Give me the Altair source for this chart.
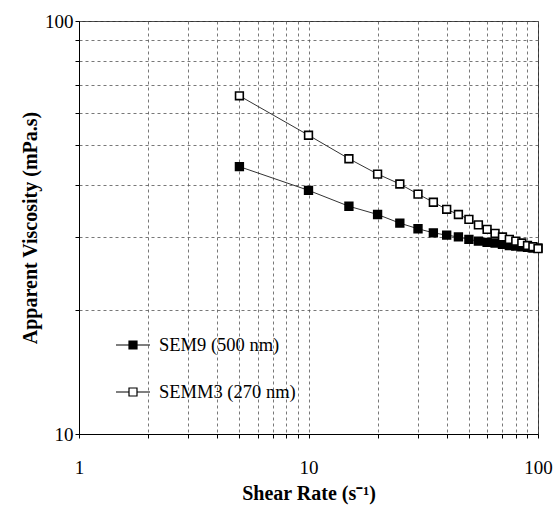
import altair as alt
import pandas as pd

# ---- data ----
shear_rate = [5, 10, 15, 20, 25, 30, 35, 40, 45, 50, 55, 60, 65, 70, 75, 80, 85, 90, 95, 100]
sem9 = [44.4, 38.9, 35.6, 34.0, 32.4, 31.4, 30.7, 30.3, 30.0, 29.6, 29.3, 29.1, 29.0, 28.8, 28.6, 28.5, 28.4, 28.3, 28.2, 28.2]
semm3 = [65.9, 52.9, 46.4, 42.6, 40.3, 38.1, 36.4, 35.0, 34.0, 33.1, 32.1, 31.3, 30.6, 30.0, 29.6, 29.3, 29.0, 28.6, 28.4, 28.1]
series_names = ["SEM9 (500 nm)", "SEMM3 (270 nm)"]
series_fill = ["black", "white"]
x_ticks = [1, 2, 3, 4, 5, 6, 7, 8, 9, 10, 20, 30, 40, 50, 60, 70, 80, 90, 100]
y_ticks = [10, 20, 30, 40, 50, 60, 70, 80, 90, 100]
x_labels = [1, 10, 100]
y_labels = [10, 100]

rows = []
for name, vals in zip(series_names, [sem9, semm3]):
    for x, v in zip(shear_rate, vals):
        rows.append({"rate": x, "visc": v, "series": name})
df = pd.DataFrame(rows)

FONT = "Liberation Serif"

x_expr = " || ".join(f"datum.value == {v}" for v in x_labels)
y_expr = " || ".join(f"datum.value == {v}" for v in y_labels)

xaxis = alt.Axis(values=x_ticks, labelExpr=f"({x_expr}) ? format(datum.value, 'd') : ''",
                 labelPadding=20, titlePadding=6, labelFlush=False)
yaxis = alt.Axis(values=y_ticks, labelExpr=f"({y_expr}) ? format(datum.value, 'd') : ''",
                 labelPadding=2, titlePadding=4)

base = alt.Chart(df).encode(
    x=alt.X("rate:Q", scale=alt.Scale(type="log", domain=[1, 100], nice=False),
            axis=xaxis, title="Shear Rate (s⁻¹)"),
    y=alt.Y("visc:Q", scale=alt.Scale(type="log", domain=[10, 100], nice=False),
            axis=yaxis, title="Apparent Viscosity (mPa.s)"),
)

line = base.mark_line(color="#333", strokeWidth=1).encode(detail="series:N")

legend_symbol = "M-1.7,0H-0.4M0.4,0H1.7M-0.4,-0.4H0.4V0.4H-0.4Z"

points = base.mark_point(shape="square", size=60, filled=True, strokeWidth=1.6,
                         opacity=1, stroke="black").encode(
    fill=alt.Fill("series:N", scale=alt.Scale(domain=series_names, range=series_fill),
                  legend=alt.Legend(orient="none", legendX=43, legendY=313, title=None,
                                    symbolType=legend_symbol, symbolSize=400,
                                    symbolStrokeColor="black", symbolStrokeWidth=1.2,
                                    labelFont=FONT, labelFontSize=18.5, labelColor="black",
                                    labelOffset=15, rowPadding=26, padding=0)),
)

chart = alt.layer(line, points).properties(
    width=459, height=413,
    padding={"left": 79, "top": 21, "right": 17, "bottom": 74},
    autosize=alt.AutoSizeParams(type="none"),
).configure_axis(
    labelFont=FONT, labelFontSize=19, labelColor="black",
    titleFont=FONT, titleFontSize=20, titleFontWeight="bold", titleColor="black",
    domainColor="black", domainWidth=1, tickColor="black", tickSize=4,
    gridColor="#555", gridDash=[3, 3], gridWidth=0.8,
).configure_view(stroke="#333", strokeWidth=1)

chart.save("out.html", embed_options={"renderer": "svg", "actions": False})
